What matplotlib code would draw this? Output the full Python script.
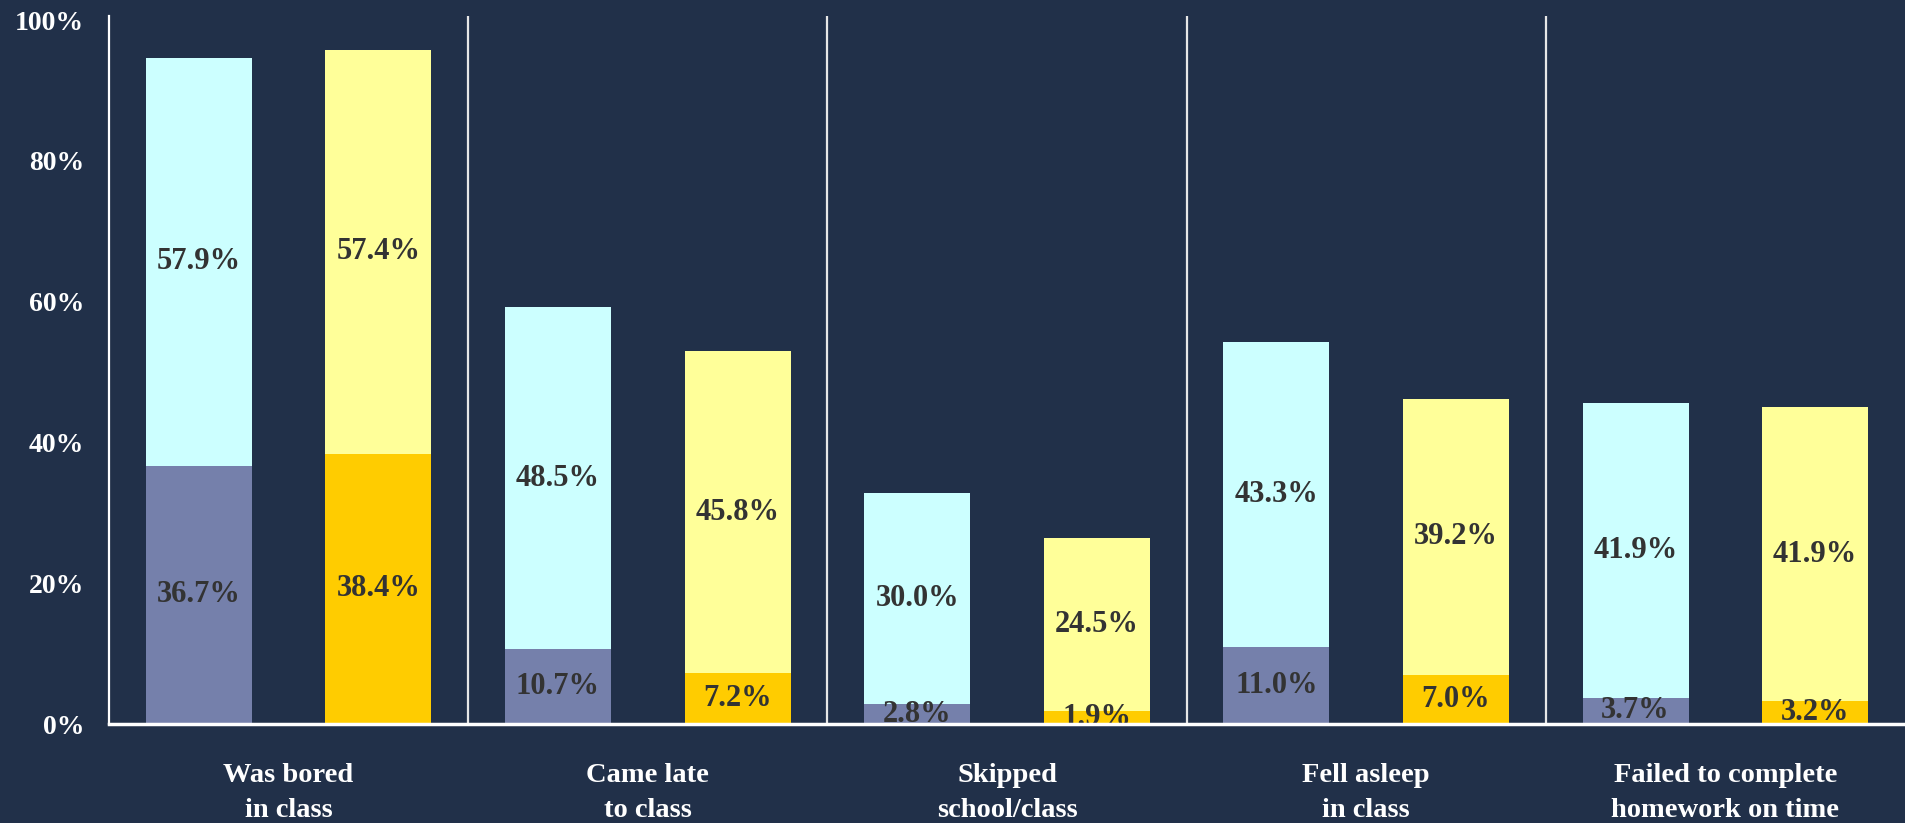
import matplotlib
matplotlib.use("Agg")
import matplotlib.pyplot as plt
import numpy as np

categories = ["Was bored\nin class", "Came late\nto class", "Skipped\nschool/class",
              "Fell asleep\nin class", "Failed to complete\nhomework on time"]
# series A (purple / cyan)
a_often = [36.7, 10.7, 2.8, 11.0, 3.7]
a_some = [57.9, 48.5, 30.0, 43.3, 41.9]
# series B (orange / yellow)
b_often = [38.4, 7.2, 1.9, 7.0, 3.2]
b_some = [57.4, 45.8, 24.5, 39.2, 41.9]
yticks = [0, 20, 40, 60, 80, 100]

BG = "#213049"
C_PURPLE = "#7580AB"
C_CYAN = "#CCFFFF"
C_ORANGE = "#FFCC00"
C_YELLOW = "#FFFF99"
TXT = "#333333"

plt.rcParams['font.family'] = ['Liberation Serif', 'DejaVu Serif']

fig = plt.figure(figsize=(19.05, 8.23), dpi=100, facecolor=BG)
ax = fig.add_axes([109/1905, 99/823, 1 - 109/1905, (807-99)/823])
ax.set_facecolor(BG)

x = np.arange(len(categories))
w = 0.295
xa = x + 0.25
xb = x + 0.75

ax.bar(xa, a_often, w, color=C_PURPLE, zorder=1)
ax.bar(xa, a_some, w, bottom=a_often, color=C_CYAN, zorder=1)
ax.bar(xb, b_often, w, color=C_ORANGE, zorder=1)
ax.bar(xb, b_some, w, bottom=b_often, color=C_YELLOW, zorder=1)

def lab(xs, bottoms, heights):
    for xi, b, h in zip(xs, bottoms, heights):
        ax.text(xi, b + h / 2, f"{h:.1f}%", ha="center", va="center",
                fontsize=22, fontweight="bold", color=TXT, zorder=1.5)

lab(xa, [0]*5, a_often)
lab(xa, a_often, a_some)
lab(xb, [0]*5, b_often)
lab(xb, b_often, b_some)

for s in range(1, len(categories)):
    ax.axvline(s, color="#E6E6E6", lw=1.6, zorder=2)

ax.set_xlim(0, len(categories))
ax.set_ylim(0, 100.6)
ax.set_yticks(yticks)
ax.set_yticklabels([f"{t}%" for t in yticks])
ax.set_xticks(x + 0.5)
ax.set_xticklabels(categories, linespacing=1.55)
ax.tick_params(axis="y", length=0, pad=18, labelsize=20, labelcolor="white")
ax.tick_params(axis="x", length=0, pad=28, labelsize=20.5, labelcolor="white")
for t in ax.get_yticklabels() + ax.get_xticklabels():
    t.set_fontweight("bold")

for sp in ["top", "right"]:
    ax.spines[sp].set_visible(False)
ax.spines["left"].set_color("white")
ax.spines["left"].set_linewidth(1.6)
ax.spines["bottom"].set_color("white")
ax.spines["bottom"].set_linewidth(2.5)
ax.spines["bottom"].set_zorder(3)

fig.savefig("out.png", dpi=100, facecolor=BG)
